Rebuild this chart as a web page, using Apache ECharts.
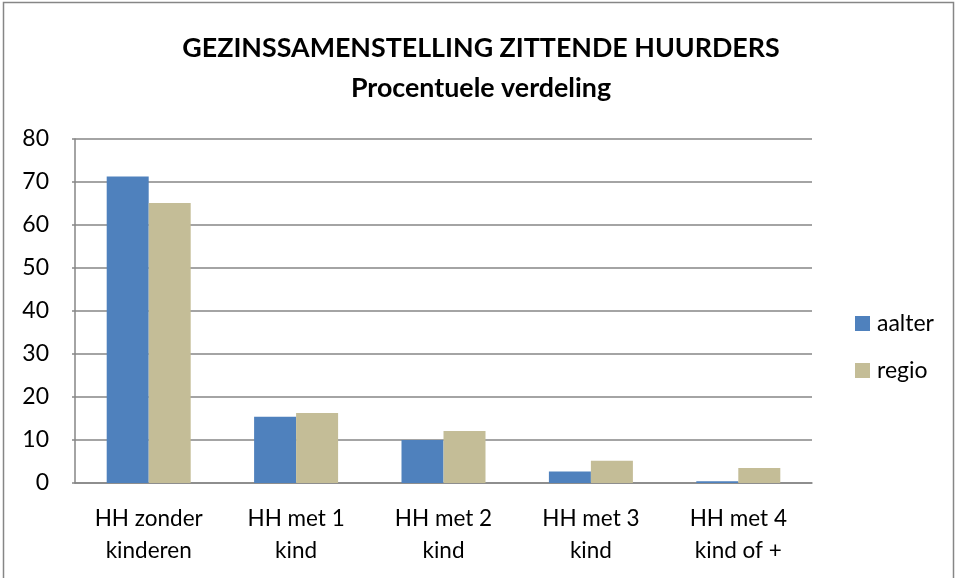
<!DOCTYPE html>
<html><head><meta charset="utf-8">
<script src="https://cdn.jsdelivr.net/npm/echarts@6/dist/echarts.min.js"></script>
<style>html,body{margin:0;padding:0;background:#fff}#c{width:957px;height:578px}</style>
</head><body><div id="c"></div>
<script>
const categories = ['HH zonder\nkinderen', 'HH met 1\nkind', 'HH met 2\nkind', 'HH met 3\nkind', 'HH met 4\nkind of +'];
const aalter = [71.3, 15.4, 10.0, 2.7, 0.4];
const regio = [65.1, 16.3, 12.1, 5.2, 3.5];
const yTicks = [0, 10, 20, 30, 40, 50, 60, 70, 80];
const F = 'Lato, "Open Sans", sans-serif';
const chart = echarts.init(document.getElementById('c'));
chart.setOption({
  animation: false,
  title: {
    text: 'GEZINSSAMENSTELLING ZITTENDE HUURDERS\nProcentuele verdeling',
    top: 23, left: 476,
    textAlign: 'center',
    textStyle: { fontFamily: F, fontWeight: 'bold', fontSize: 26.8, lineHeight: 40, color: '#000' }
  },
  legend: {
    orient: 'vertical', left: 850, top: 307, itemGap: 24,
    itemWidth: 15, itemHeight: 15, icon: 'rect',
    textStyle: { fontFamily: F, fontSize: 23, color: '#000', padding: [0, 0, 0, 2] },
    data: ['aalter', 'regio']
  },
  grid: { left: 75, top: 139, width: 737, height: 344 },
  xAxis: {
    type: 'category', data: categories,
    axisLine: { lineStyle: { color: '#868686', width: 1.5 } },
    axisTick: { show: false },
    axisLabel: { fontFamily: F, fontSize: 22.5, color: '#000', lineHeight: 32, margin: 20 }
  },
  yAxis: {
    type: 'value', min: yTicks[0], max: yTicks[yTicks.length - 1], interval: 10,
    axisLine: { show: true, lineStyle: { color: '#868686', width: 1.5 } },
    axisTick: { show: true, length: 3, lineStyle: { color: '#868686', width: 1.5 } },
    splitLine: { lineStyle: { color: '#868686', width: 1.5 } },
    axisLabel: { fontFamily: F, fontSize: 23, color: '#000', margin: 26 }
  },
  series: [
    { name: 'aalter', type: 'bar', data: aalter, barWidth: 42, barGap: '0%', itemStyle: { color: '#4F81BD' } },
    { name: 'regio', type: 'bar', data: regio, barWidth: 42, itemStyle: { color: '#C4BD97' } }
  ],
  graphic: [{ type: 'rect', shape: { x: 3.5, y: 2.5, width: 950, height: 600 }, style: { fill: 'none', stroke: '#868686', lineWidth: 1.5 }, silent: true }]
});
</script></body></html>
